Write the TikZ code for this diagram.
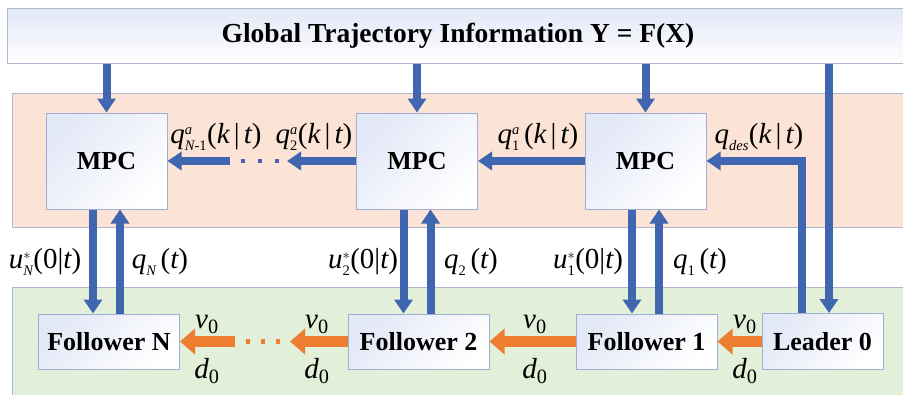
\documentclass[tikz,border=0pt]{standalone}
\usepackage{amsmath}
\usepackage{fontspec}
\setmainfont{Liberation Serif}
\usetikzlibrary{arrows.meta}
\definecolor{bandorange}{HTML}{FBE4D5}
\definecolor{bandgreen}{HTML}{E2EFD9}
\definecolor{bandline}{HTML}{AEB8CE}
\definecolor{boxline}{HTML}{9FAED2}
\definecolor{boxtint}{HTML}{E3E8F7}
\definecolor{arrblue}{HTML}{4166B0}
\definecolor{arrorange}{HTML}{ED7D31}
\newcommand{\mi}[1]{\textit{#1}}
\newcommand{\up}[1]{\textup{#1}}
\newcommand{\sml}[1]{{\scriptscriptstyle #1}}
\begin{document}
\begin{tikzpicture}[x=1pt,y=-1pt,
  band/.style={draw=bandline,line width=1pt},
  boxnode/.style={draw=boxline,line width=1pt,top color=boxtint,bottom color=white,shading angle=45,
    inner sep=0pt,font=\fontsize{26}{30}\selectfont\bfseries},
  mpcbox/.style={boxnode,minimum width=121pt,minimum height=96pt},
  folbox/.style={boxnode,minimum width=141pt,minimum height=55pt},
  leadbox/.style={boxnode,minimum width=121pt,minimum height=56pt},
  lbl/.style={inner sep=0pt,font=\fontsize{29}{34}\selectfont},
  bluearrow/.style={draw=arrblue,line width=8pt,line join=miter,
    -{Triangle[width=18pt,length=14pt]},arrblue},
  orangearrow/.style={draw=arrorange,line width=11pt,
    -{Triangle[width=25pt,length=15pt]},arrorange}]
\useasboundingbox (0,0) rectangle (903,394);
% bands
\fill[white] (0,0) rectangle (903,394);
\draw[band,fill=bandorange] (12,93) rectangle (908,227);
\draw[band,fill=bandgreen] (12,287) rectangle (908,400);
% banner
\node[draw=bandline,line width=1pt,top color=boxtint,bottom color=white,
  minimum width=902pt,minimum height=55pt,inner sep=0pt,anchor=north west] (banner) at (7,8) {};
\node[inner sep=0pt,font=\fontsize{27.5}{32}\selectfont\bfseries] (title) at (458,36)
  {Global Trajectory Information Y = F(X)};
% MPC boxes
\node[mpcbox] (mpcN) at (106.5,161) {MPC};
\node[mpcbox] (mpc2) at (417,161) {MPC};
\node[mpcbox] (mpc1) at (645.5,161) {MPC};
% vehicles
\node[folbox] (fN) at (109,341.5) {Follower N};
\node[folbox] (f2) at (418.5,341.5) {Follower 2};
\node[folbox] (f1) at (646.5,341.5) {Follower 1};
\node[leadbox] (lead) at (822.5,341.5) {Leader 0};
% helper coordinates
\coordinate (lx) at (829,0);
\coordinate (cx) at (802,0);
\coordinate (b1) at (287,161);
\coordinate (b2) at (230,161);
\coordinate (o1) at (290,341.5);
\coordinate (o2) at (235,341.5);
% top arrows
\draw[bluearrow] (banner.south -| mpcN.north) -- (mpcN.north);
\draw[bluearrow] (banner.south -| mpc2.north) -- (mpc2.north);
\draw[bluearrow] (banner.south -| mpc1.north) -- (mpc1.north);
\draw[bluearrow] (banner.south -| lx) -- (lead.north -| lx);
\draw[bluearrow] (lead.north -| cx) |- (mpc1.east);
% horizontal MPC arrows
\draw[bluearrow] (mpc1.west) -- (mpc2.east);
\draw[bluearrow] (mpc2.west) -- (b1);
\draw[bluearrow] (b2) -- (mpcN.east);
\foreach \x in {243,260,277} \fill[arrblue] (\x-2,159) rectangle (\x+2,163);
% vertical pairs
\foreach \m/\f in {mpcN/fN,mpc2/f2,mpc1/f1}{
  \draw[bluearrow] ([xshift=-13.5pt]\m.south) -- ([xshift=-13.5pt]\m.south |- \f.north);
  \draw[bluearrow] ([xshift=13.5pt]\m.south |- \f.north) -- ([xshift=13.5pt]\m.south);
}
% orange arrows
\draw[orangearrow] (lead.west) -- (f1.east);
\draw[orangearrow] (f1.west) -- (f2.east);
\draw[orangearrow] (f2.west) -- (o1);
\draw[orangearrow] (o2) -- (fN.east);
\foreach \x in {248,263,278} \fill[arrorange] (\x-2.3,339.2) rectangle (\x+2.3,343.8);
% labels MPC level
\node[lbl] (lqN) at (216,137) {$\mi{q}^{\sml{\mi{a}}}_{\sml{\mi{N}\up{-1}}}\up{(}\mi{k}\,\up{|}\,\mi{t}\up{)}$};
\node[lbl] (lq2) at (314,137) {$\mi{q}^{\sml{\mi{a}}}_{\sml{\up{2}}}\up{(}\mi{k}\,\up{|}\,\mi{t}\up{)}$};
\node[lbl] (lq1) at (538,137) {$\mi{q}^{\sml{\mi{a}}}_{\sml{\up{1}}}\,\up{(}\mi{k}\,\up{|}\,\mi{t}\up{)}$};
\node[lbl] (lqd) at (759,137) {$\mi{q}_{\sml{\mi{des}}}\up{(}\mi{k}\,\up{|}\,\mi{t}\up{)}$};
% labels between
\node[lbl] (luN) at (45,262) {$\mi{u}^{\sml{*}}_{\sml{\mi{N}}}\up{(0|}\mi{t}\up{)}$};
\node[lbl] (lpN) at (160,262) {$\mi{q}_{\sml{\mi{N}}}\,\up{(}\mi{t}\up{)}$};
\node[lbl] (lu2) at (363,262) {$\mi{u}^{\sml{*}}_{\sml{\up{2}}}\up{(0|}\mi{t}\up{)}$};
\node[lbl] (lp2) at (471,262) {$\mi{q}_{\sml{\up{2}}}\,\up{(}\mi{t}\up{)}$};
\node[lbl] (lu1) at (588,262) {$\mi{u}^{\sml{*}}_{\sml{\up{1}}}\up{(0|}\mi{t}\up{)}$};
\node[lbl] (lp1) at (700,262) {$\mi{q}_{\sml{\up{1}}}\,\up{(}\mi{t}\up{)}$};
% v0 d0
\foreach \x/\n in {207/a,317/b,535/c,745/d}{
  \node[lbl] (v\n) at (\x,324) {$\mi{v}_{\up{0}}$};
  \node[lbl] (d\n) at (\x,371) {$\mi{d}_{\up{0}}$};
}
\end{tikzpicture}
\end{document}
